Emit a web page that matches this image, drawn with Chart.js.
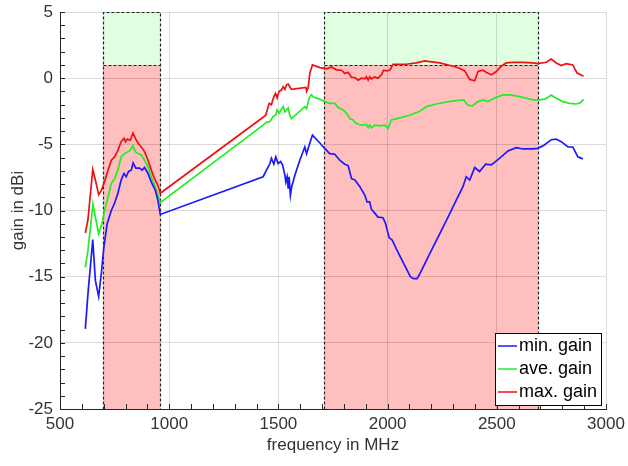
<!DOCTYPE html>
<html>
<head>
<meta charset="utf-8">
<script src="https://cdn.jsdelivr.net/npm/chart.js@4"></script>
<style>
  html, body { margin: 0; padding: 0; background: #fff; }
  #wrap { width: 628px; height: 466px; }
</style>
</head>
<body>
<div id="wrap"><canvas id="gain"></canvas></div>
<script>
// frequency bands (MHz) and the gain limit drawn as shaded boxes
const bandStart = [698, 1710]
const bandEnd = [960, 2690]
const bandLimit = 1

const maxFreq = [616, 628, 650, 662, 677, 689, 701, 720, 735, 750, 765, 780, 793, 800, 808, 822, 834, 845, 857, 872,
  887, 903, 918, 933, 948, 959, 1430, 1442, 1458, 1468, 1479, 1487, 1494, 1503, 1514, 1522, 1530, 1537, 1545, 1552,
  1560, 1626, 1629, 1636, 1644, 1656, 1690, 1720, 1743, 1766, 1789, 1804, 1819, 1835, 1850, 1865, 1880, 1896, 1903, 1911,
  1918, 1926, 1941, 1956, 1972, 1982, 1994, 2010, 2025, 2086, 2132, 2170, 2193, 2239, 2300, 2330, 2353, 2376, 2399, 2414,
  2437, 2455, 2475, 2498, 2520, 2543, 2574, 2620, 2665, 2688, 2727, 2749, 2772, 2795, 2818, 2848, 2867, 2897]
const maxGain = [-11.7, -10.7, -6.9, -7.7, -8.8, -8.5, -7.95, -6.95, -6.2, -5.95, -5.45, -4.8, -4.55, -4.8, -4.6, -4.7, -4.15, -4.55, -4.9, -5.2,
  -5.55, -6.2, -6.95, -7.6, -8.1, -8.7, -2.95, -2.8, -1.9, -2.0, -1.4, -1.15, -1.5, -1.0, -0.9, -0.65, -0.85, -0.5, -0.45, -0.65,
  -0.85, -0.7, -1.0, -0.75, 0.4, 1.0, 0.8, 0.7, 0.85, 0.63, 0.6, 0.35, 0.45, 0.05, 0.05, -0.15, 0, -0.05, 0.1, -0.15,
  0.1, -0.05, 0.1, 0, 0.25, 0.6, 0.55, 0.6, 1.05, 1.05, 1.15, 1.3, 1.25, 1.15, 0.9, 0.75, 0.55, -0.1, -0.2, 0.5,
  0.6, 0.4, 0.25, 0.5, 0.9, 1.15, 1.2, 1.2, 1.15, 1.1, 1.2, 1.45, 1.15, 0.95, 1.1, 1.0, 0.4, 0.15]

const aveFreq = [616, 628, 651, 662, 677, 692, 704, 720, 735, 750, 765, 780, 796, 811, 822, 834, 845, 857, 872, 887,
  903, 918, 936, 948, 959, 1430, 1448, 1461, 1476, 1488, 1494, 1503, 1514, 1522, 1530, 1537, 1545, 1552, 1560, 1621,
  1629, 1641, 1651, 1659, 1690, 1712, 1735, 1758, 1773, 1796, 1812, 1827, 1842, 1854, 1869, 1884, 1903, 1911, 1918, 1926,
  1941, 1964, 1987, 2002, 2017, 2055, 2101, 2147, 2178, 2223, 2269, 2315, 2348, 2368, 2388, 2414, 2437, 2460, 2475, 2498,
  2528, 2559, 2589, 2635, 2665, 2696, 2723, 2749, 2772, 2803, 2833, 2864, 2882, 2897]
const aveGain = [-14.3, -13.0, -9.5, -10.5, -11.75, -11.0, -10.0, -9.0, -7.95, -7.6, -6.95, -5.95, -5.7, -5.55, -5.45, -5.1, -5.55, -5.7, -5.8, -6.2,
  -6.7, -7.45, -8.2, -8.85, -9.4, -3.55, -3.3, -3.28, -2.9, -2.78, -2.4, -2.65, -2.35, -2.15, -2.55, -2.4, -2.25, -2.8, -3.05, -2.15,
  -2.3, -1.5, -1.25, -1.4, -1.6, -1.77, -1.9, -1.9, -2.2, -2.4, -2.65, -3.05, -3.15, -3.4, -3.5, -3.55, -3.5, -3.75, -3.55, -3.75,
  -3.55, -3.6, -3.55, -3.8, -3.15, -3.0, -2.8, -2.5, -2.15, -1.95, -1.8, -1.7, -1.65, -2.05, -2.1, -1.77, -1.64, -1.77, -1.64, -1.45,
  -1.27, -1.27, -1.34, -1.52, -1.64, -1.64, -1.57, -1.27, -1.52, -1.77, -1.9, -1.95, -1.87, -1.6]

const minFreq = [616, 628, 650, 662, 677, 689, 701, 716, 735, 750, 765, 780, 793, 803, 814, 826, 835, 847, 864, 876,
  887, 903, 918, 936, 948, 959, 1430, 1461, 1468, 1479, 1488, 1499, 1510, 1519, 1530, 1534, 1540, 1545, 1549, 1555,
  1561, 1575, 1598, 1621, 1629, 1641, 1656, 1690, 1712, 1735, 1758, 1781, 1804, 1819, 1835, 1850, 1873, 1896, 1906, 1918,
  1926, 1941, 1956, 1979, 1991, 2007, 2022, 2040, 2063, 2086, 2104, 2119, 2135, 2147, 2193, 2239, 2284, 2315, 2345, 2360,
  2376, 2399, 2421, 2449, 2475, 2498, 2520, 2551, 2589, 2620, 2665, 2688, 2718, 2749, 2772, 2795, 2826, 2848, 2871, 2894]
const minGain = [-18.95, -16.3, -12.2, -15.3, -16.5, -14.8, -12.75, -11.0, -10.0, -9.45, -8.7, -7.7, -7.2, -7.45, -7.05, -6.95, -6.4, -6.8, -6.8, -6.95,
  -6.75, -7.2, -7.85, -8.45, -9.2, -10.3, -7.45, -6.45, -6.05, -6.5, -5.95, -6.45, -6.3, -6.55, -7.35, -7.85, -7.45, -8.35, -7.45, -8.85,
  -8.2, -7.35, -6.2, -5.2, -5.7, -5.05, -4.3, -4.9, -5.3, -5.7, -5.75, -6.2, -6.5, -6.6, -7.6, -7.7, -8.2, -8.85, -9.35, -9.35,
  -9.9, -10.2, -10.5, -10.55, -11.0, -12.05, -12.25, -12.9, -13.65, -14.4, -15.0, -15.15, -15.15, -14.8, -13.25, -11.75, -10.25, -9.2, -8.2, -7.45,
  -7.7, -6.75, -7.05, -6.5, -6.55, -6.25, -5.95, -5.5, -5.25, -5.35, -5.35, -5.3, -5.05, -4.65, -4.6, -4.8, -5.2, -5.2, -5.95, -6.1]

const seriesNames = ['min. gain', 'ave. gain', 'max. gain']
const seriesColors = ['#1a1aff', '#22ee22', '#ee1111']

function pts(xs, ys) {
  return xs.map((x, i) => ({x: x, y: ys[i]}))
}

const txt = '#333333'
const fontFam = '"Liberation Sans", Arial, sans-serif'

// shaded bands under the grid
const bandPlugin = {
  id: 'bands',
  beforeDraw(chart) {
    const {ctx, scales: {x, y}} = chart
    ctx.save()
    for (let i = 0; i < bandStart.length; i++) {
      const x0 = x.getPixelForValue(bandStart[i])
      const x1 = x.getPixelForValue(bandEnd[i])
      const yTop = y.getPixelForValue(y.max)
      const yLim = y.getPixelForValue(bandLimit)
      const yBot = y.getPixelForValue(y.min)
      ctx.fillStyle = '#e0ffe0'
      ctx.fillRect(x0, yTop, x1 - x0, yLim - yTop)
      ctx.fillStyle = '#ffbfbf'
      ctx.fillRect(x0, yLim, x1 - x0, yBot - yLim)
    }
    ctx.restore()
  },
  beforeDatasetsDraw(chart) {
    const {ctx, scales: {x, y}} = chart
    ctx.save()
    ctx.strokeStyle = '#222'
    ctx.lineWidth = 1.2
    ctx.setLineDash([3, 2])
    for (let i = 0; i < bandStart.length; i++) {
      const x0 = Math.round(x.getPixelForValue(bandStart[i])) + 0.5
      const x1 = Math.round(x.getPixelForValue(bandEnd[i])) + 0.5
      const yTop = Math.round(y.getPixelForValue(y.max)) + 0.5
      const yLim = Math.round(y.getPixelForValue(bandLimit)) + 0.5
      const yBot = Math.round(y.getPixelForValue(y.min)) + 0.5
      ctx.beginPath()
      ctx.moveTo(x0, yBot); ctx.lineTo(x0, yTop); ctx.lineTo(x1, yTop); ctx.lineTo(x1, yBot)
      ctx.moveTo(x0, yLim); ctx.lineTo(x1, yLim)
      ctx.stroke()
    }
    ctx.restore()
  },
  afterDraw(chart) {
    const {ctx, chartArea: a, scales: {x, y}} = chart
    ctx.save()
    // inward ticks like the original plot
    ctx.strokeStyle = '#262626'
    ctx.lineWidth = 1
    ctx.beginPath()
    for (let v = y.min; v <= y.max; v += 1) {
      const py = Math.round(y.getPixelForValue(v)) + 0.5
      ctx.moveTo(a.left, py); ctx.lineTo(a.left + 5, py)
    }
    for (let v = x.min; v <= x.max; v += 100) {
      const px = Math.round(x.getPixelForValue(v)) + 0.5
      ctx.moveTo(px, a.bottom); ctx.lineTo(px, a.bottom - 5)
    }
    ctx.stroke()

    // legend box in the lower right corner
    const bx = a.right - 111, by = a.bottom - 76, bw = 106, bh = 72
    ctx.fillStyle = '#fff'
    ctx.fillRect(bx, by, bw, bh)
    ctx.strokeStyle = '#000'
    ctx.strokeRect(bx + 0.5, by + 0.5, bw, bh)
    ctx.font = '18px ' + fontFam
    ctx.textBaseline = 'middle'
    for (let i = 0; i < seriesNames.length; i++) {
      const ly = by + 13 + i * 23
      ctx.strokeStyle = seriesColors[i]
      ctx.lineWidth = 1.5
      ctx.beginPath()
      ctx.moveTo(bx + 3, ly); ctx.lineTo(bx + 22, ly)
      ctx.stroke()
      ctx.fillStyle = '#000'
      ctx.fillText(seriesNames[i], bx + 24, ly)
    }
    ctx.restore()
  }
}

new Chart(document.getElementById('gain'), {
  type: 'line',
  data: {
    datasets: [
      {label: seriesNames[0], data: pts(minFreq, minGain), borderColor: seriesColors[0]},
      {label: seriesNames[1], data: pts(aveFreq, aveGain), borderColor: seriesColors[1]},
      {label: seriesNames[2], data: pts(maxFreq, maxGain), borderColor: seriesColors[2]}
    ]
  },
  options: {
    responsive: true,
    maintainAspectRatio: false,
    animation: false,
    layout: {padding: {top: 12, right: 22, left: 0, bottom: 0}},
    elements: {
      line: {borderWidth: 1.7, tension: 0, fill: false},
      point: {radius: 0}
    },
    plugins: {
      legend: {display: false},
      tooltip: {enabled: false}
    },
    scales: {
      x: {
        type: 'linear',
        min: 500,
        max: 3000,
        afterFit: s => { s.height = 57; s.paddingLeft = 0; s.paddingRight = 0 },
        ticks: {stepSize: 500, color: txt, padding: 5, maxRotation: 0, callback: v => String(v), font: {size: 17, family: fontFam}},
        grid: {color: 'rgba(0,0,0,0.14)', drawTicks: false},
        border: {color: '#262626'},
        title: {display: true, text: 'frequency in MHz', color: txt, padding: {top: 0, bottom: 10}, font: {size: 17, family: fontFam}}
      },
      y: {
        min: -25,
        max: 5,
        afterFit: s => { s.width = 60; s.paddingTop = 0; s.paddingBottom = 0 },
        ticks: {stepSize: 5, color: txt, padding: 7, font: {size: 17, family: fontFam}},
        grid: {color: 'rgba(0,0,0,0.14)', drawTicks: false},
        border: {color: '#262626'},
        title: {display: true, text: 'gain in dBi', color: txt, padding: {top: 8, bottom: 0}, font: {size: 17, family: fontFam}}
      }
    }
  },
  plugins: [bandPlugin]
});
</script>
</body>
</html>
